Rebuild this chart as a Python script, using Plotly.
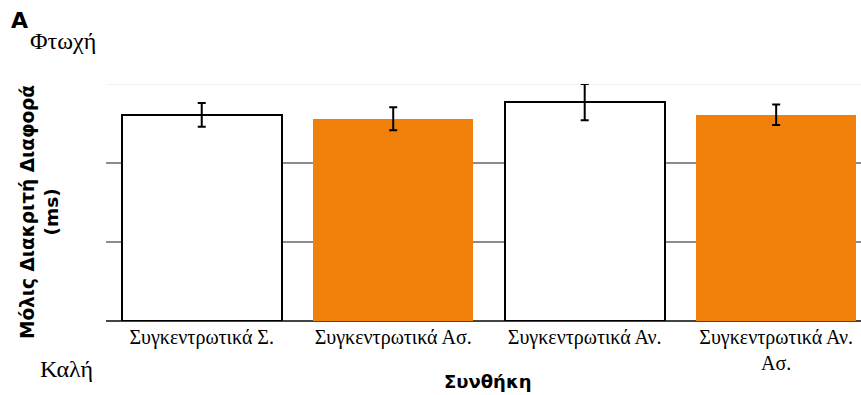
import plotly.graph_objects as go

categories = ["Συγκεντρωτικά Σ.", "Συγκεντρωτικά Ασ.", "Συγκεντρωτικά Αν.", "Συγκεντρωτικά Αν.<br>Ασ."]
values = [2.61, 2.56, 2.77, 2.61]
errors = [0.15, 0.145, 0.23, 0.13]
fill_colors = ["#ffffff", "#f0800a", "#ffffff", "#f0800a"]
outline_widths = [2, 0, 2, 0]

W, H = 861, 395
L, R, T, B = 106, 0, 84, 74
PW, PH = W - L - R, H - T - B

fig = go.Figure()
fig.add_trace(go.Bar(
    x=list(range(len(categories))),
    y=values,
    width=0.835,
    marker=dict(color=fill_colors, line=dict(color="#000000", width=outline_widths)),
    error_y=dict(type="data", array=errors, visible=True, color="#000000", thickness=2, width=4),
    showlegend=False,
))

fig.add_shape(type="line", xref="paper", yref="y", x0=0, x1=1, y0=3, y1=3,
              line=dict(color="#eeeeee", width=1.5), layer="below")

serif = "Liberation Serif, Times New Roman, serif"
sans = "DejaVu Sans, Verdana, sans-serif"


def px(x):
    return (x - L) / PW


def py(y):
    return (H - B - y) / PH


fig.update_layout(
    width=W, height=H,
    margin=dict(l=L, r=R, t=T, b=B),
    plot_bgcolor="#ffffff", paper_bgcolor="#ffffff",
    bargap=0,
    xaxis=dict(
        range=[-0.5, 3.443],
        tickvals=list(range(len(categories))),
        ticktext=categories,
        tickfont=dict(family=serif, size=20, color="#000000"),
        showgrid=False, zeroline=False, showline=False, ticks="",
        tickangle=0, ticklabelstandoff=2,
    ),
    yaxis=dict(
        range=[0, 3],
        tickvals=[1, 2],
        showticklabels=False,
        showgrid=True, gridcolor="#8c8c8c", gridwidth=2,
        zeroline=True, zerolinecolor="#444444", zerolinewidth=2,
        showline=False, ticks="",
    ),
    annotations=[
        dict(text="<b>Συνθήκη</b>", xref="paper", yref="paper", x=px(488), y=py(381),
             xanchor="center", yanchor="middle", showarrow=False,
             font=dict(family=sans, size=18, color="#000000")),
        dict(text="<b>Μόλις Διακριτή Διαφορά<br>(ms)</b>", xref="paper", yref="paper",
             x=px(39), y=py(212), textangle=-90,
             xanchor="center", yanchor="middle", showarrow=False,
             font=dict(family=sans, size=18.5, color="#000000")),
        dict(text="<b>A</b>", xref="paper", yref="paper", x=px(19), y=py(21),
             xanchor="center", yanchor="middle", showarrow=False,
             font=dict(family=sans, size=22, color="#000000")),
        dict(text="Φτωχή", xref="paper", yref="paper", x=px(63), y=py(41),
             xanchor="center", yanchor="middle", showarrow=False,
             font=dict(family=serif, size=24, color="#000000")),
        dict(text="Καλή", xref="paper", yref="paper", x=px(66), y=py(369),
             xanchor="center", yanchor="middle", showarrow=False,
             font=dict(family=serif, size=24, color="#000000")),
    ],
)

fig.write_html("out.html", config={"displayModeBar": False},
               post_script="document.body.style.margin='0';document.body.style.overflow='hidden';")
